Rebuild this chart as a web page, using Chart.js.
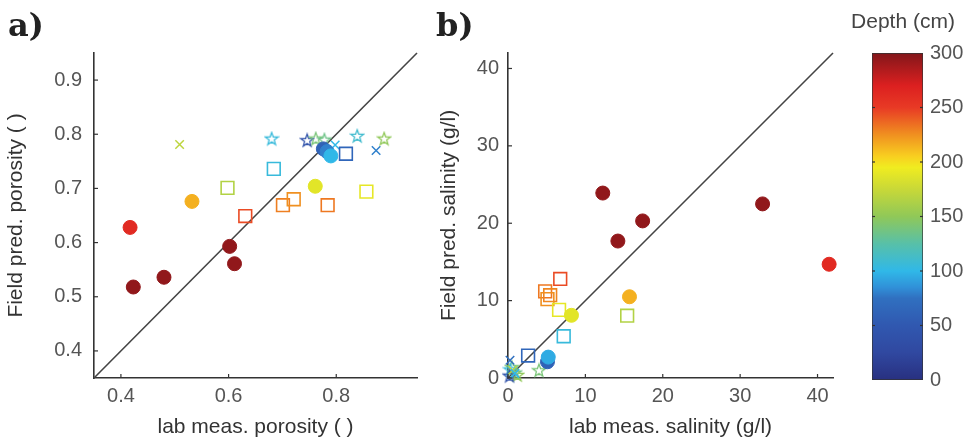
<!DOCTYPE html>
<html>
<head>
<meta charset="utf-8">
<script src="https://cdn.jsdelivr.net/npm/chart.js@4.4.1/dist/chart.umd.min.js"></script>
<style>
  body { margin: 0; background: #fff; }
  #wrap { position: relative; width: 967px; height: 445px; overflow: hidden; }
  canvas { position: absolute; top: 0; }
  .lbl { position: absolute; font-family: 'DejaVu Serif', serif; font-weight: bold; font-size: 32px; line-height: 32px; color: #222; }
  #cbTitle { position: absolute; left: 843px; width: 120px; top: 10px; text-align: center; font: 21px/21px 'Liberation Sans', Arial, sans-serif; color: #444; }
</style>
</head>
<body>
<div id="wrap">
  <canvas id="chartA" width="430" height="445" style="left:0"></canvas>
  <canvas id="chartB" width="420" height="445" style="left:425px"></canvas>
  <canvas id="chartC" width="122" height="445" style="left:845px"></canvas>
  <div class="lbl" style="left:8px;top:9px">a)</div>
  <div class="lbl" style="left:436px;top:9px">b)</div>
  <div id="cbTitle">Depth (cm)</div>
</div>
<script>
// a) porosity: lab measured vs field predicted, depth in cm
const porCircLab   = [0.423, 0.480, 0.602, 0.611, 0.417, 0.532, 0.761, 0.776, 0.783, 0.790]
const porCircField = [0.518, 0.536, 0.593, 0.561, 0.628, 0.676, 0.704, 0.773, 0.768, 0.760]
const porCircDepth = [295, 295, 295, 295, 262, 215, 188, 60, 80, 100]

const porSqLab   = [0.631, 0.701, 0.721, 0.784, 0.856, 0.598, 0.684, 0.818]
const porSqField = [0.649, 0.669, 0.680, 0.669, 0.694, 0.701, 0.736, 0.764]
const porSqDepth = [245, 230, 225, 232, 190, 165, 105, 65]

const porXLab   = [0.509, 0.874, 0.798]
const porXField = [0.781, 0.770, 0.780]
const porXDepth = [170, 80, 100]

const porStarLab   = [0.680, 0.746, 0.762, 0.778, 0.839, 0.889]
const porStarField = [0.792, 0.789, 0.792, 0.790, 0.797, 0.792]
const porStarDepth = [105, 40, 140, 135, 110, 150]

const porRange  = [0.35, 0.95]
const porXTicks = [0.4, 0.6, 0.8]
const porYTicks = [0.4, 0.5, 0.6, 0.7, 0.8, 0.9]

// b) salinity (g/l)
const salCircLab   = [12.25, 14.2, 17.4, 32.9, 41.5, 15.7, 8.2, 5.1, 5.2]
const salCircField = [23.9, 17.7, 20.3, 22.5, 14.7, 10.5, 8.1, 2.1, 2.7]
const salCircDepth = [295, 295, 295, 295, 262, 215, 188, 60, 95]

const salSqLab   = [6.75, 4.8, 5.45, 5.1, 6.6, 15.4, 7.2, 2.6]
const salSqField = [12.8, 11.2, 10.7, 10.2, 8.8, 8.05, 5.4, 2.9]
const salSqDepth = [245, 232, 228, 225, 190, 165, 105, 65]

const salXLab   = [0.26, 0.6, 0.9]
const salXField = [2.3, 1.0, 0.6]
const salXDepth = [75, 170, 100]

const salStarLab   = [4.0, 0.5, 0.9, 0.3, 1.2, 0.2]
const salStarField = [1.0, 1.4, 0.7, 1.1, 0.4, 0.3]
const salStarDepth = [140, 140, 135, 105, 150, 40]

const salRange = [0, 42]
const salTicks = [0, 10, 20, 30, 40]

// colour bar
const depthRange = [0, 300]
const depthTicks = [0, 50, 100, 150, 200, 250, 300]

// jet-like colormap as seen in the figure (fraction, rgb)
const cmap = [
  [0, [40, 48, 128]],
  [0.083, [48, 72, 160]],
  [0.167, [48, 88, 176]],
  [0.25, [48, 112, 192]],
  [0.283, [48, 144, 216]],
  [0.333, [48, 184, 232]],
  [0.417, [88, 192, 168]],
  [0.5, [144, 200, 88]],
  [0.583, [200, 216, 56]],
  [0.65, [240, 236, 32]],
  [0.683, [248, 208, 32]],
  [0.75, [240, 144, 32]],
  [0.833, [232, 58, 37]],
  [0.9, [220, 32, 32]],
  [1, [130, 22, 26]]
]

function cmapColor(t) {
  t = Math.min(1, Math.max(0, t))
  let i = 1
  while (i < cmap.length - 1 && cmap[i][0] < t) i++
  const [t0, c0] = cmap[i - 1]
  const [t1, c1] = cmap[i]
  const f = (t - t0) / (t1 - t0)
  return 'rgb(' + c0.map((v, k) => Math.round(v + (c1[k] - v) * f)).join(',') + ')'
}
const depthColor = d => cmapColor((d - depthRange[0]) / (depthRange[1] - depthRange[0]))

// MATLAB-style pentagram marker
const starCache = {}
function starMarker(color) {
  if (starCache[color]) return starCache[color]
  const c = document.createElement('canvas')
  c.width = 16; c.height = 16
  const g = c.getContext('2d')
  g.beginPath()
  for (let k = 0; k < 10; k++) {
    const r = k % 2 ? 2.7 : 6.6
    const a = -Math.PI / 2 + k * Math.PI / 5
    const px = 8 + r * Math.cos(a), py = 8.5 + r * Math.sin(a)
    k ? g.lineTo(px, py) : g.moveTo(px, py)
  }
  g.closePath()
  g.strokeStyle = color
  g.lineWidth = 1.3
  g.stroke()
  starCache[color] = c
  return c
}

const pts = (xs, ys) => xs.map((x, i) => ({ x: x, y: ys[i] }))
const fixTicks = list => s => { s.ticks = list.map(v => ({ value: v })) }

function panelDatasets(c, s, xm, st, range) {
  return [
    { data: pts(c[0], c[1]), pointStyle: 'circle', pointRadius: 7,
      backgroundColor: c[2].map(depthColor), borderColor: c[2].map(depthColor), borderWidth: 1 },
    { data: pts(s[0], s[1]), pointStyle: 'rect', pointRadius: 9,
      backgroundColor: 'rgba(0,0,0,0)', borderColor: s[2].map(depthColor), borderWidth: 1.6 },
    { data: pts(xm[0], xm[1]), pointStyle: 'crossRot', pointRadius: 6,
      borderColor: xm[2].map(depthColor), borderWidth: 1.5 },
    { data: pts(st[0], st[1]), pointStyle: st[2].map(d => starMarker(depthColor(d))), pointRadius: 7 },
    // 1:1 line
    { type: 'line', data: pts(range, range), borderColor: '#444', borderWidth: 1.6, pointRadius: 0 }
  ].map(d => Object.assign({ clip: false }, d))
}

// small tick marks pointing into the axes
const inTicks = {
  id: 'inTicks',
  afterDatasetsDraw(chart, args, opts) {
    const { ctx, chartArea: a } = chart
    ctx.save()
    ctx.strokeStyle = '#333'
    ctx.lineWidth = 1.2
    const xs = chart.scales.x, ys = chart.scales.y
    if (opts.x) xs.ticks.forEach(t => {
      const p = xs.getPixelForValue(t.value)
      ctx.beginPath(); ctx.moveTo(p, a.bottom); ctx.lineTo(p, a.bottom - opts.len); ctx.stroke()
    })
    ys.ticks.forEach(t => {
      if (opts.skipEnds && (t.value === ys.min || t.value === ys.max)) return
      const p = ys.getPixelForValue(t.value)
      ctx.beginPath(); ctx.moveTo(a.left, p); ctx.lineTo(a.left + opts.len, p); ctx.stroke()
      if (opts.both) { ctx.beginPath(); ctx.moveTo(a.right, p); ctx.lineTo(a.right - opts.len, p); ctx.stroke() }
    })
    ctx.restore()
  }
}

Chart.defaults.font.family = "'Liberation Sans', Arial, sans-serif"
Chart.defaults.color = '#555'

function scatterOptions(range, xTicks, yTicks, xTitle, yTitle, yw, yPad, yTitlePad, rightPad, fmt) {
  const axis = (title, list, pad, extra) => Object.assign({
    type: 'linear', min: range[0], max: range[1],
    afterBuildTicks: fixTicks(list),
    ticks: { color: '#555', font: { size: 20 }, padding: pad, callback: fmt },
    grid: { display: false, drawTicks: false },
    border: { display: true, color: '#333', width: 1.6 },
    title: { display: true, text: title, color: '#333', font: { size: 21 } }
  }, extra)
  return {
    responsive: false,
    animation: false,
    layout: { padding: { top: 53, right: rightPad, bottom: 0, left: 0 } },
    plugins: { legend: { display: false }, tooltip: { enabled: false }, inTicks: { x: true, len: 4 } },
    scales: {
      x: axis(xTitle, xTicks, 6, { afterFit: s => { s.height = 67 } }),
      y: axis(yTitle, yTicks, yPad, { afterFit: s => { s.width = yw } })
    }
  }
}

const optA = scatterOptions(porRange, porXTicks, porYTicks, 'lab meas. porosity ( )', 'Field pred. porosity ( )',
  94, 12, 4, 13, v => v.toFixed(1))
optA.scales.x.title.padding = { top: 0, bottom: 5 }
optA.scales.y.title.padding = { top: 4, bottom: 0 }

new Chart(document.getElementById('chartA'), {
  type: 'scatter',
  data: { datasets: panelDatasets([porCircLab, porCircField, porCircDepth], [porSqLab, porSqField, porSqDepth],
    [porXLab, porXField, porXDepth], [porStarLab, porStarField, porStarDepth], porRange) },
  options: optA,
  plugins: [inTicks]
})

const optB = scatterOptions(salRange, salTicks, salTicks, 'lab meas. salinity (g/l)', 'Field pred. salinity (g/l)',
  83, 9, 12, 12, v => v)
optB.scales.x.title.padding = { top: 0, bottom: 5 }
optB.scales.y.title.padding = { top: 12, bottom: 0 }

new Chart(document.getElementById('chartB'), {
  type: 'scatter',
  data: { datasets: panelDatasets([salCircLab, salCircField, salCircDepth], [salSqLab, salSqField, salSqDepth],
    [salXLab, salXField, salXDepth], [salStarLab, salStarField, salStarDepth], salRange) },
  options: optB,
  plugins: [inTicks]
})

// colour bar drawn as one floating bar with the colormap as a gradient
new Chart(document.getElementById('chartC'), {
  type: 'bar',
  data: {
    labels: [''],
    datasets: [{
      data: [depthRange],
      backgroundColor: ctx => {
        const a = ctx.chart.chartArea
        if (!a) return '#888'
        const g = ctx.chart.ctx.createLinearGradient(0, a.bottom, 0, a.top)
        cmap.forEach(([t]) => g.addColorStop(t, cmapColor(t)))
        return g
      },
      borderColor: '#333',
      borderWidth: 1,
      borderSkipped: false,
      barPercentage: 1,
      categoryPercentage: 1
    }]
  },
  options: {
    responsive: false,
    animation: false,
    layout: { padding: { top: 53, left: 27, bottom: 65, right: 0 } },
    plugins: { legend: { display: false }, tooltip: { enabled: false }, inTicks: { x: false, both: true, skipEnds: true, len: 3 } },
    scales: {
      x: { display: false },
      y: {
        position: 'right', min: depthRange[0], max: depthRange[1],
        afterBuildTicks: fixTicks(depthTicks),
        ticks: { padding: 7, color: '#555', font: { size: 20 } },
        grid: { display: false, drawTicks: false },
        border: { display: false },
        afterFit: s => { s.width = 44 }
      }
    }
  },
  plugins: [inTicks]
})
</script>
</body>
</html>
